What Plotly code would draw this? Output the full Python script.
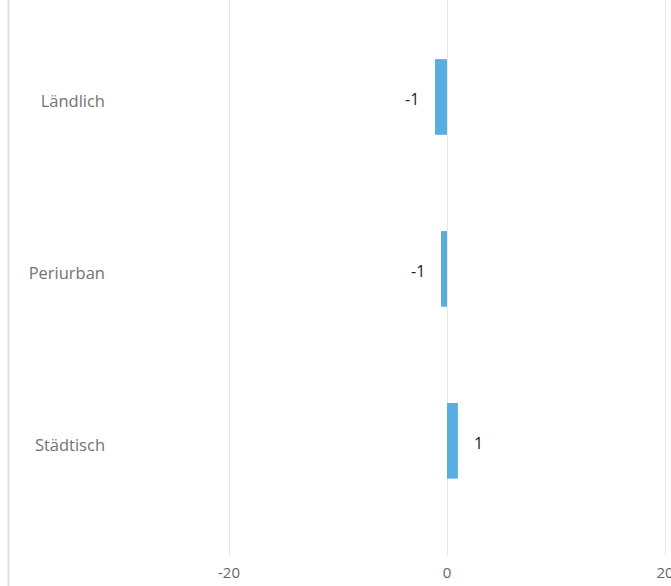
import plotly.graph_objects as go

categories = ["Ländlich", "Periurban", "Städtisch"]
values = [-1.1, -0.55, 1.0]
x_ticks = [-20, 0, 20]

FONT = "Open Sans, Noto Sans, sans-serif"

fig = go.Figure()
fig.add_trace(go.Bar(
    y=categories, x=values, orientation="h",
    marker=dict(color="#58AEE0", line=dict(width=0)),
    width=0.44, hoverinfo="skip",
))

for c, v in zip(categories, values):
    fig.add_annotation(
        x=v, y=c, xref="x", yref="y",
        text=f"{v:.0f}",
        showarrow=False,
        xanchor="right" if v < 0 else "left",
        xshift=-14 if v < 0 else 14,
        yshift=-2,
        font=dict(family=FONT, size=16, color="#222222"),
    )

L = 112
px_per_unit = 10.9
x0 = (L - 447) / px_per_unit
x1 = (671 - 447) / px_per_unit

fig.update_layout(
    width=671, height=586,
    margin=dict(l=L, r=0, t=0, b=30, autoexpand=False),
    plot_bgcolor="white", paper_bgcolor="white",
    showlegend=False,
    xaxis=dict(
        range=[x0, x1], tickvals=x_ticks, ticktext=[str(t) for t in x_ticks],
        showgrid=True, gridcolor="#E8E8E8", gridwidth=1,
        zeroline=True, zerolinecolor="#E8E8E8", zerolinewidth=1,
        showline=False, ticks="", ticklabelstandoff=6,
        ticklabeloverflow="allow", automargin=False,
        tickfont=dict(family=FONT, size=15, color="#666666"),
        fixedrange=True,
    ),
    yaxis=dict(
        categoryorder="array", categoryarray=categories,
        range=[2.67, -0.564],
        showgrid=False, zeroline=False, showline=False, ticks="",
        ticklabelstandoff=6, ticklabelshift=-4, automargin=False,
        tickfont=dict(family=FONT, size=16.5, color="#737373"),
        fixedrange=True,
    ),
    shapes=[dict(type="line", xref="paper", yref="paper",
                 x0=-(L - 8.5) / (671 - L), x1=-(L - 8.5) / (671 - L),
                 y0=-0.06, y1=1.0, line=dict(color="#E0E0E0", width=2))],
)

fig.write_html("out.html", config={"displayModeBar": False},
               post_script="document.body.style.margin='0';document.body.style.overflow='hidden';")
